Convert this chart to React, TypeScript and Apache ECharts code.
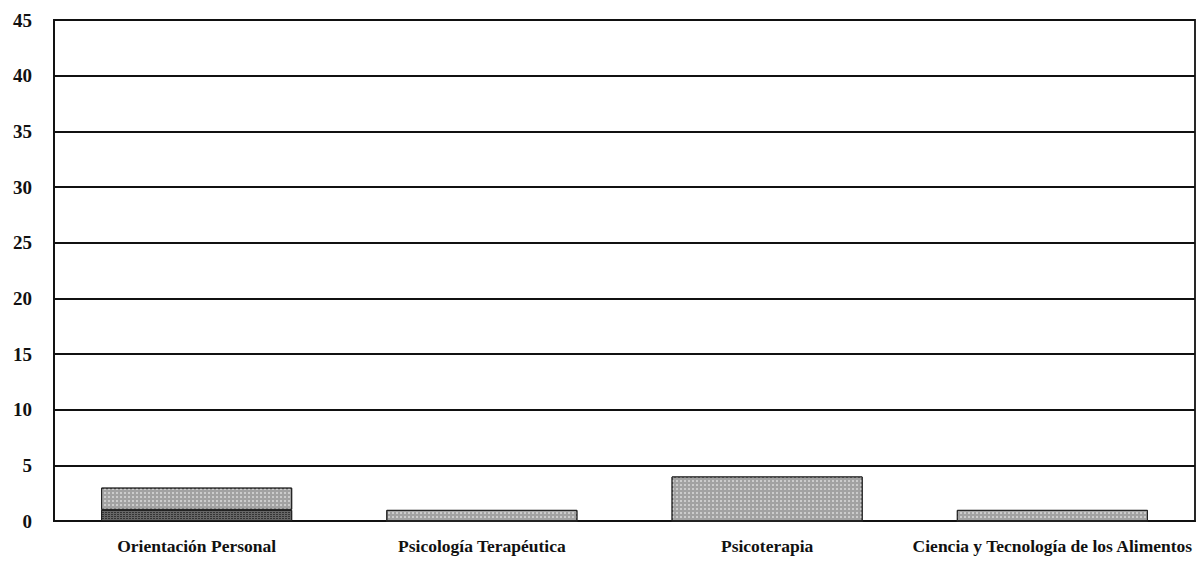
import React, { useEffect, useRef } from "react";
import * as echarts from "echarts";

const categories = [
  "Orientación Personal",
  "Psicología Terapéutica",
  "Psicoterapia",
  "Ciencia y Tecnología de los Alimentos",
];
const darkSeries = [1, 0, 0, 0];
const lightSeries = [2, 1, 4, 1];
const yTicks = { min: 0, max: 45, interval: 5 };

export default function App() {
  const ref = useRef<HTMLDivElement>(null);
  useEffect(() => {
    if (!ref.current) return;
    const chart = echarts.init(ref.current, null, { renderer: "svg" });
    const font = "'Liberation Serif', 'DejaVu Serif', serif";
    chart.setOption({
      animation: false,
      backgroundColor: "#ffffff",
      grid: {
        left: 54,
        right: 3,
        top: 20,
        bottom: 41,
        show: true,
        borderColor: "#111",
        borderWidth: 1.8,
      },
      xAxis: {
        type: "category",
        data: categories,
        axisLine: { lineStyle: { color: "#111", width: 1.8 } },
        axisTick: { show: false },
        axisLabel: {
          color: "#111",
          fontFamily: font,
          fontWeight: "bold",
          fontSize: 17.5,
          margin: 16,
          interval: 0,
        },
      },
      yAxis: {
        type: "value",
        min: yTicks.min,
        max: yTicks.max,
        interval: yTicks.interval,
        axisLine: { show: true, lineStyle: { color: "#111", width: 1.8 } },
        axisTick: { show: false },
        splitLine: { lineStyle: { color: "#111", width: 1.8 } },
        axisLabel: {
          color: "#111",
          fontFamily: font,
          fontWeight: "bold",
          fontSize: 19,
          margin: 22,
        },
      },
      series: [
        {
          type: "bar",
          stack: "s",
          data: darkSeries,
          barWidth: "67%",
          itemStyle: {
            color: "#666666",
            borderColor: "#222",
            borderWidth: 1,
            decal: {
              symbol: "rect",
              symbolSize: 1,
              dashArrayX: [2, 1],
              dashArrayY: [1, 1],
              color: "rgba(0,0,0,0.5)",
            },
          },
        },
        {
          type: "bar",
          stack: "s",
          data: lightSeries,
          barWidth: "67%",
          itemStyle: {
            color: "#a2a2a2",
            borderColor: "#222",
            borderWidth: 1,
            decal: {
              symbol: "rect",
              symbolSize: 1,
              dashArrayX: [2, 2],
              dashArrayY: [2, 2],
              color: "rgba(255,255,255,0.45)",
            },
          },
        },
      ],
    });
    return () => chart.dispose();
  }, []);
  return (
    <div
      ref={ref}
      style={{ position: "absolute", left: 0, top: 0, width: 1198, height: 562 }}
    />
  );
}
